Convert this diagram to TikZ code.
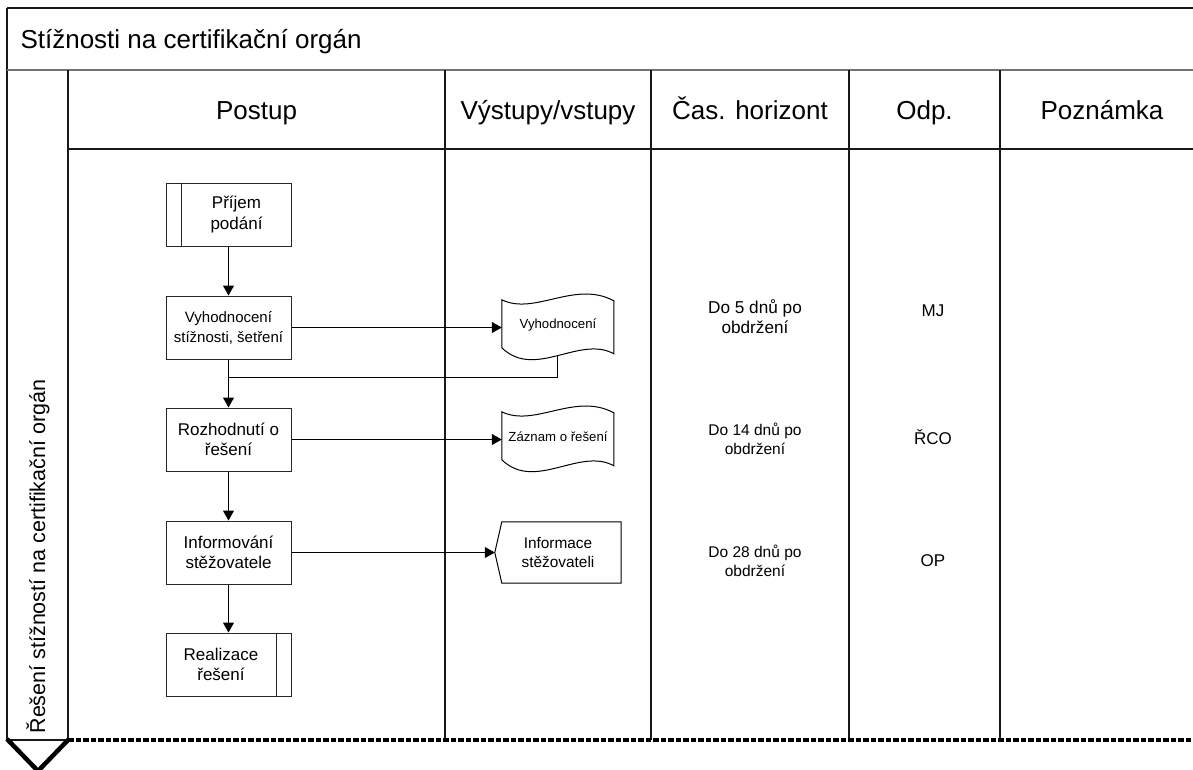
\documentclass[tikz,border=0pt]{standalone}
\usepackage{fontspec}
\setmainfont{Liberation Sans}
\usetikzlibrary{arrows.meta,calc}
\begin{document}
\begin{tikzpicture}[x=1pt,y=-1pt,
  frame/.style={line width=1.3pt, draw=black!90},
  procbox/.style={draw=black!85, line width=1pt, minimum width=125pt, minimum height=63pt, inner sep=0pt},
  flow/.style={draw=black, line width=1pt, -{Triangle[length=10pt,width=11pt]}},
  link/.style={draw=black, line width=1pt},
  hdr/.style={font=\fontsize{26}{30}\selectfont, anchor=base},
  boxtxt/.style={align=center, font=\fontsize{17}{20.5}\selectfont},
  docnode/.style={minimum width=112pt, minimum height=50pt, inner sep=0pt, font=\fontsize{13.2}{16}\selectfont},
  note/.style={align=center, font=\fontsize{15.5}{19}\selectfont},
  resp/.style={font=\fontsize{17}{20}\selectfont, anchor=base}
]
\fill[white] (0,0) rectangle (1193,769);
\useasboundingbox (0,0) rectangle (1193,769);

% outer frame of the swimlane table
\draw[frame] (7,8) -- (1193,8);
\draw[frame] (7,8) -- (7,740);
\draw[line width=2.8pt, draw=black!55] (7,70) -- (1193,70);
\foreach \cx in {68,445,651,849,1000} \draw[frame] (\cx,70) -- (\cx,740);
\draw[frame] (68,149) -- (1193,149);
\draw[frame] (7,740) -- (68,740);
\draw[line width=3.2pt, dash pattern=on 5.5pt off 2pt] (68,740) -- (1193,740);
\draw[line width=4.5pt, line join=miter] (7,739) -- (38,771) -- (69,739);

% title and column headings
\node[hdr, anchor=base west] (title) at (17,48) {Stížnosti na certifikační orgán};
\node[hdr] (hPostup) at (256.5,119) {Postup};
\node[hdr] (hVystupy) at (548,119) {Výstupy/vstupy};
\node[hdr] (hCas) at (750,119) {Čas. horizont};
\node[hdr] (hOdp) at (924.5,119) {Odp.};
\node[hdr] (hPozn) at (1102,119) {Poznámka};
\node[font=\fontsize{21.5}{24}\selectfont, rotate=90, anchor=base west] (lane) at (45,737) {Řešení stížností na certifikační orgán};

% process steps
\node[procbox] (b1) at (228.5,214.5) {};
\draw[draw=black!85, line width=1pt] ($(b1.north west)+(16,0)$) -- ($(b1.south west)+(16,0)$);
\node[boxtxt] (t1) at ($(b1.center)+(8,0)$) {Příjem\\podání};

\node[procbox, boxtxt, font=\fontsize{15}{20}\selectfont] (b2) at (228.5,327.5) {Vyhodnocení\\stížnosti, šetření};
\node[procbox, boxtxt] (b3) at (228.5,439.5) {Rozhodnutí o\\řešení};
\node[procbox, boxtxt] (b4) at (228.5,552.5) {Informování\\stěžovatele};

\node[procbox] (b5) at (228.5,664.5) {};
\draw[draw=black!85, line width=1pt] ($(b5.north east)+(-15,0)$) -- ($(b5.south east)+(-15,0)$);
\node[boxtxt] (t5) at ($(b5.center)+(-7.5,0)$) {Realizace\\řešení};

% documents
\node[docnode] (d1) at (558,325) {Vyhodnocení};
\begin{scope}[shift={(d1.north west)}]
  \draw[link] (0,0) .. controls (33,16) and (73,-20) .. (112,1) -- (112,54)
     .. controls (78,35) and (33,80) .. (0,48) -- cycle;
  \coordinate (d1ret) at (56,56);
\end{scope}

\node[docnode] (d2) at (558,437) {Záznam o řešení};
\begin{scope}[shift={(d2.north west)}]
  \draw[link] (0,0) .. controls (33,16) and (73,-20) .. (112,1) -- (112,54)
     .. controls (78,35) and (33,80) .. (0,48) -- cycle;
\end{scope}

\node[minimum width=126pt, minimum height=61pt, inner sep=0pt, align=center,
      font=\fontsize{15.4}{19}\selectfont] (d3) at (558,552.5) {Informace\\stěžovateli};
\draw[link] ($(d3.north west)+(7,0)$) -- (d3.north east) -- (d3.south east)
   -- ($(d3.south west)+(7,0)$) -- (d3.west) -- cycle;

% connectors
\coordinate (join) at (228.5,377);
\draw[flow] (b1.south) -- (b2.north);
\draw[flow] (b2.south) -- (b3.north);
\draw[link] (d1ret) |- (join);
\draw[flow] (b3.south) -- (b4.north);
\draw[flow] (b4.south) -- (b5.north);
\draw[flow] (b2.east) -- (b2.east -| d1.west);
\draw[flow] (b3.east) -- (b3.east -| d2.west);
\draw[flow] (b4.east) -- (d3.west);

% deadlines and responsibilities
\node[note, font=\fontsize{17.2}{20}\selectfont] (c1) at (755,317) {Do 5 dnů po\\obdržení};
\node[note] (c2) at (755,438.5) {Do 14 dnů po\\obdržení};
\node[note] (c3) at (755,561) {Do 28 dnů po\\obdržení};
\node[resp] (r1) at (933,316.5) {MJ};
\node[resp] (r2) at (933,444) {ŘCO};
\node[resp] (r3) at (933,566) {OP};
\end{tikzpicture}
\end{document}
